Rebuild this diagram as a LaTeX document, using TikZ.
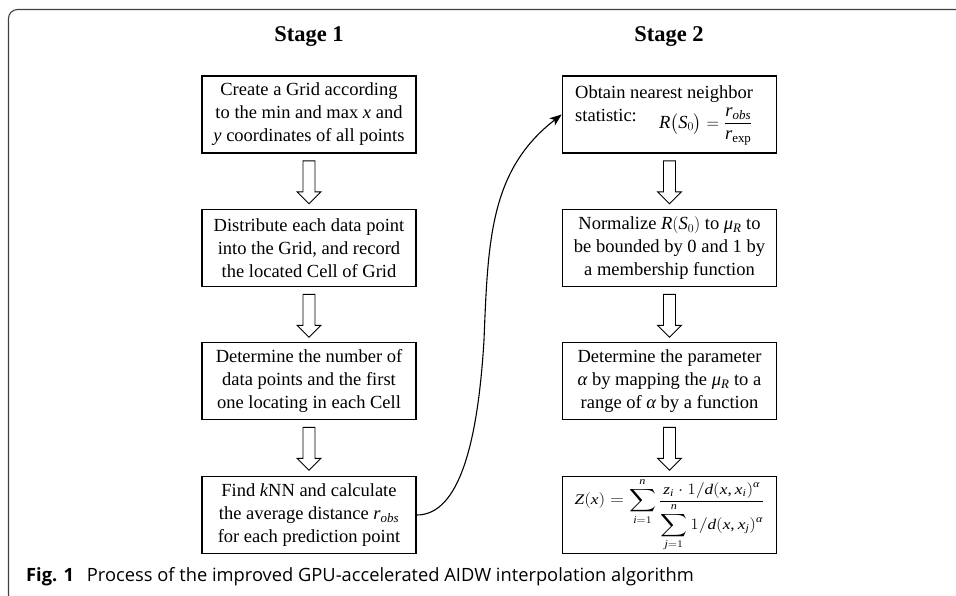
\documentclass[tikz,border=0pt]{standalone}
\usepackage{amsmath}
\usepackage{fontspec}
\setmainfont{Liberation Serif}
\newfontfamily\capfont{Open Sans}
\DeclareSymbolFont{letters}{TU}{\rmdefault}{m}{it}
\Umathcode`,="6 \symoperators `,
\Umathcode`/="0 \symoperators `/
\Umathchardef\alpha="0 \symletters "03B1
\Umathchardef\mu="0 \symletters "03BC
\usetikzlibrary{arrows.meta,calc}
\tikzset{
  stepbox/.style={draw=black, line width=1.6pt, minimum width=214pt, minimum height=77pt,
    align=center, inner sep=0pt, font=\fontsize{18.5}{23}\selectfont},
  blockarr/.style={draw=black, line width=0.9pt, fill=white},
  stagelabel/.style={font=\fontsize{22.5}{25}\selectfont\bfseries},
  framel/.style={draw=black!75, line width=1.1pt, rounded corners=9pt},
}
\newcommand{\blockdown}[1]{%
  \path[blockarr] (#1.south) ++(-6,7) -- ++(0,31) -- ++(-6,0) -- ++(12,12) -- ++(12,-12) -- ++(-6,0) -- ++(0,-31) -- cycle;}
\begin{document}
\begin{tikzpicture}[x=1pt,y=-1pt]
\useasboundingbox (0,0) rectangle (956,595);
\clip (0,0) rectangle (956,595);
% frame
\draw[framel] (960,9.5) -- (8.5,9.5) -- (8.5,604) -- (40,604);
% titles
\node[stagelabel] (s1) at (309,37) {Stage 1};
\node[stagelabel] (s2) at (669,37) {Stage 2};
% stage 1
\node[stepbox] (b1) at (309,114.5) {Create a Grid according\\ to the min and max $x$ and\\ $y$ coordinates of all points};
\node[stepbox] (b2) at (309,248) {Distribute each data point\\ into the Grid, and record\\ the located Cell of Grid};
\node[stepbox] (b3) at (309,381) {Determine the number of\\ data points and the first\\ one locating in each Cell};
\node[stepbox] (b4) at (309,515) {Find $k$NN and calculate\\ the average distance $r_{obs}$\\ for each prediction point};
% stage 2
\node[stepbox] (b5) at (669.5,114.5) {};
\node[anchor=base west, inner sep=0pt, font=\fontsize{18.5}{23}\selectfont, align=left] (t5) at (575,121)
  {Obtain nearest neighbor\\ statistic:\hspace{1.2em}\smash{\raisebox{-7pt}{$R\bigl(S_0\bigr)=\dfrac{r_{obs}}{r_{\mathrm{exp}}}$}}};
\node[stepbox] (b6) at (669.5,248) {Normalize $R(S_0)$ to $\mu_R$ to\\ be bounded by 0 and 1 by\\ a membership function};
\node[stepbox] (b7) at (669.5,381) {Determine the parameter\\ $\alpha$ by mapping the $\mu_R$ to a\\ range of $\alpha$ by a function};
\node[stepbox] (b8) at (669.5,515) {};
\node[inner sep=0pt, font=\fontsize{16}{20}\selectfont] (t8) at (669.5,515)
  {\scalebox{1.08}[0.92]{$\displaystyle Z(x)=\sum_{i=1}^{n}\frac{\displaystyle z_i\cdot 1/d(x,x_i)^{\alpha}}{\displaystyle\sum_{j=1}^{n}1/d(x,x_j)^{\alpha}}$}};
% block arrows
\blockdown{b1}\blockdown{b2}\blockdown{b3}
\blockdown{b5}\blockdown{b6}\blockdown{b7}
% curved connector
\draw[line width=1.1pt, -{Stealth[length=12pt,width=9pt,inset=3pt]}] (b4.east) .. controls (460,515) and (478,440) .. (484,340) .. controls (488,240) and (490,170) .. (b5.west);
% caption
\node[anchor=base west, inner sep=0pt, font=\capfont\fontsize{18.3}{20}\selectfont] (cap) at (26,581)
  {\textbf{Fig. 1}\hspace{0.7em}Process of the improved GPU-accelerated AIDW interpolation algorithm};
\end{tikzpicture}
\end{document}
